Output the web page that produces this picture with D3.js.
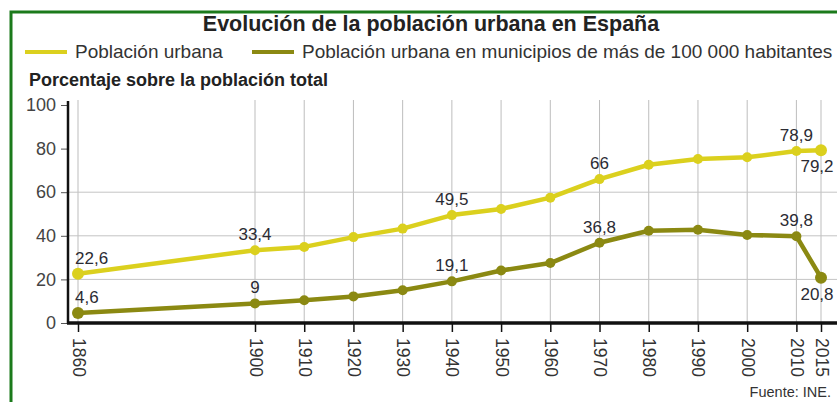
<!DOCTYPE html>
<html>
<head>
<meta charset="utf-8">
<script src="https://cdn.jsdelivr.net/npm/d3@7"></script>
<style>
  body { margin: 0; background: #fff; }
  svg { display: block; font-family: "Liberation Sans", Arial, sans-serif; }
</style>
</head>
<body>
<div id="chart"></div>
<script>
// data
var years = [1860, 1900, 1910, 1920, 1930, 1940, 1950, 1960, 1970, 1980, 1990, 2000, 2010, 2015];
var urbana = [22.6, 33.4, 34.9, 39.4, 43.3, 49.5, 52.3, 57.5, 66, 72.6, 75.2, 76, 78.9, 79.2];
var grandes = [4.6, 9, 10.4, 12.2, 15, 19.1, 24.1, 27.5, 36.8, 42.3, 42.8, 40.4, 39.8, 20.8];
var yTicks = [0, 20, 40, 60, 80, 100];
var gridY = [20, 40, 60];
// which points carry a value label
var urbanaLabels = { 1860: "22,6", 1900: "33,4", 1940: "49,5", 1970: "66", 2010: "78,9", 2015: "79,2" };
var grandesLabels = { 1860: "4,6", 1900: "9", 1940: "19,1", 1970: "36,8", 2010: "39,8", 2015: "20,8" };

var W = 837, H = 402;
var colUrb = "#dbd01e", colBig = "#8b8912", txt = "#333";

var svg = d3.select("#chart").append("svg")
	.attr("width", W)
	.attr("height", H);

// green frame
svg.append("rect")
	.attr("x", 11).attr("y", 12)
	.attr("width", 840).attr("height", 400)
	.attr("fill", "none")
	.attr("stroke", "#1b7a1b")
	.attr("stroke-width", 3);

// titles
svg.append("text")
	.attr("x", 431).attr("y", 31)
	.attr("text-anchor", "middle")
	.attr("font-weight", "bold")
	.attr("font-size", 21.5)
	.attr("fill", "#222")
	.text("Evolución de la población urbana en España");

var legend = [
	{ name: "Población urbana", color: colUrb, x: 25 },
	{ name: "Población urbana en municipios de más de 100 000 habitantes", color: colBig, x: 252 }
];
var lg = svg.append("g").selectAll("g").data(legend).enter().append("g");
lg.append("line")
	.attr("x1", function(d) { return d.x; })
	.attr("x2", function(d) { return d.x + 42; })
	.attr("y1", 52).attr("y2", 52)
	.attr("stroke", function(d) { return d.color; })
	.attr("stroke-width", 4);
lg.append("text")
	.attr("x", function(d) { return d.x + 50; })
	.attr("y", 58)
	.attr("font-size", 19)
	.attr("fill", txt)
	.text(function(d) { return d.name; });

svg.append("text")
	.attr("x", 29).attr("y", 86)
	.attr("font-size", 18)
	.attr("font-weight", "bold")
	.attr("fill", "#222")
	.text("Porcentaje sobre la población total");

// scales
var x = d3.scaleLinear().domain([1860, 1900, 2015]).range([78, 255, 821]);
var y = d3.scaleLinear().domain([0, 100]).range([323, 105]);

// grid
svg.append("g").selectAll("line").data(years).enter().append("line")
	.attr("x1", function(d) { return x(d); })
	.attr("x2", function(d) { return x(d); })
	.attr("y1", 100).attr("y2", 323)
	.attr("stroke", "#bdbdbd").attr("stroke-width", 1);
svg.append("g").selectAll("line").data(gridY).enter().append("line")
	.attr("x1", 68).attr("x2", 837)
	.attr("y1", function(d) { return y(d); })
	.attr("y2", function(d) { return y(d); })
	.attr("stroke", "#c4c4c4").attr("stroke-width", 1);

// y axis
var yAxis = svg.append("g")
	.attr("transform", "translate(68,0)")
	.call(d3.axisLeft(y).tickValues(yTicks).tickSize(7).tickPadding(5));
yAxis.select(".domain").remove();
yAxis.selectAll(".tick line").attr("stroke", "#555");
yAxis.selectAll("text")
	.attr("font-family", "Liberation Sans, Arial, sans-serif")
	.attr("font-size", 18)
	.attr("fill", "#444");
svg.append("line")
	.attr("x1", 68).attr("x2", 68)
	.attr("y1", 101).attr("y2", 324)
	.attr("stroke", "#111").attr("stroke-width", 2.5);

// x axis
var xAxis = svg.append("g")
	.attr("transform", "translate(0,323)")
	.call(d3.axisBottom(x).tickValues(years).tickFormat(d3.format("d")).tickSize(9));
xAxis.select(".domain").remove();
xAxis.selectAll(".tick line").attr("stroke", "#111").attr("stroke-width", 1.5);
xAxis.selectAll("text")
	.attr("font-family", "Liberation Sans, Arial, sans-serif")
	.attr("font-size", 17.5)
	.attr("fill", "#333")
	.attr("text-anchor", "start")
	.attr("x", 0).attr("y", 0)
	.attr("dy", null)
	.attr("transform", "translate(-6,15) rotate(90)");
svg.append("line")
	.attr("x1", 67).attr("x2", 837)
	.attr("y1", 323).attr("y2", 323)
	.attr("stroke", "#111").attr("stroke-width", 3.5);

// series
var series = [
	{ values: urbana, color: colUrb, labels: urbanaLabels },
	{ values: grandes, color: colBig, labels: grandesLabels }
];
var line = d3.line()
	.x(function(d) { return x(d.year); })
	.y(function(d) { return y(d.v); });

series.forEach(function(s) {
	var pts = years.map(function(yr, i) { return { year: yr, v: s.values[i] }; });
	svg.append("path")
		.datum(pts)
		.attr("d", line)
		.attr("fill", "none")
		.attr("stroke", s.color)
		.attr("stroke-width", 4.5)
		.attr("stroke-linejoin", "round");
	svg.append("g").selectAll("circle").data(pts).enter().append("circle")
		.attr("cx", function(d) { return x(d.year); })
		.attr("cy", function(d) { return y(d.v); })
		.attr("r", function(d) { return d.year === 1860 || d.year === 2015 ? 6 : 5; })
		.attr("fill", s.color);
	svg.append("g").selectAll("text")
		.data(pts.filter(function(d) { return s.labels[d.year]; }))
		.enter().append("text")
		.attr("x", function(d) {
			if (d.year === 1860) return x(d.year) - 3;
			if (d.year === 2015) return x(d.year) - 4;
			return x(d.year);
		})
		.attr("y", function(d) { return d.year === 2015 ? y(d.v) + 22 : y(d.v) - 10; })
		.attr("text-anchor", function(d) { return d.year === 1860 ? "start" : "middle"; })
		.attr("font-size", 17)
		.attr("fill", "#2b2b33")
		.text(function(d) { return s.labels[d.year]; });
});

svg.append("text")
	.attr("x", 831).attr("y", 397)
	.attr("text-anchor", "end")
	.attr("font-size", 14.5)
	.attr("fill", txt)
	.text("Fuente: INE.");
</script>
</body>
</html>
